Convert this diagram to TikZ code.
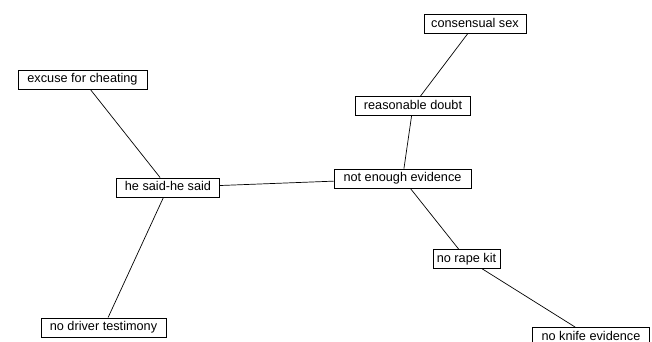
\documentclass[tikz,border=0pt]{standalone}
\usepackage{fontspec}
\setmainfont{Liberation Sans}
\begin{document}
\begin{tikzpicture}[x=1pt,y=1pt,
  box/.style={draw=black,line width=0.9pt,fill=white,inner xsep=2pt,inner ysep=0pt,
    minimum height=19pt,font=\fontsize{12.7}{14}\selectfont,text height=9.5pt,text depth=2.7pt},
  link/.style={draw=black,line width=0.7pt}]
\useasboundingbox (0,0) rectangle (652,-341);
\node[box,minimum width=102pt] (cs) at (475,-24) {consensual sex};
\node[box,minimum width=115pt] (rd) at (413,-106) {reasonable doubt};
\node[box,minimum width=129pt] (ec) at (82.5,-79.5) {excuse for cheating};
\node[box,minimum width=103pt] (hs) at (168,-187.5) {he said-he said};
\node[box,minimum width=137pt] (ne) at (402.5,-178.5) {not enough evidence};
\node[box,minimum width=67pt] (rk) at (466.5,-259) {no rape kit};
\node[box,minimum width=125pt] (dt) at (103.5,-327.5) {no driver testimony};
\node[box,minimum width=117pt] (ke) at (591,-337) {no knife evidence};
\begin{scope}[on background layer/.try]
\end{scope}
\draw[link] (cs) -- (rd);
\draw[link] (rd) -- (ne);
\draw[link] (ec) -- (hs);
\draw[link] (hs) -- (ne);
\draw[link] (hs) -- (dt);
\draw[link] (ne) -- (rk);
\draw[link] (rk) -- (ke);
\end{tikzpicture}
\end{document}
